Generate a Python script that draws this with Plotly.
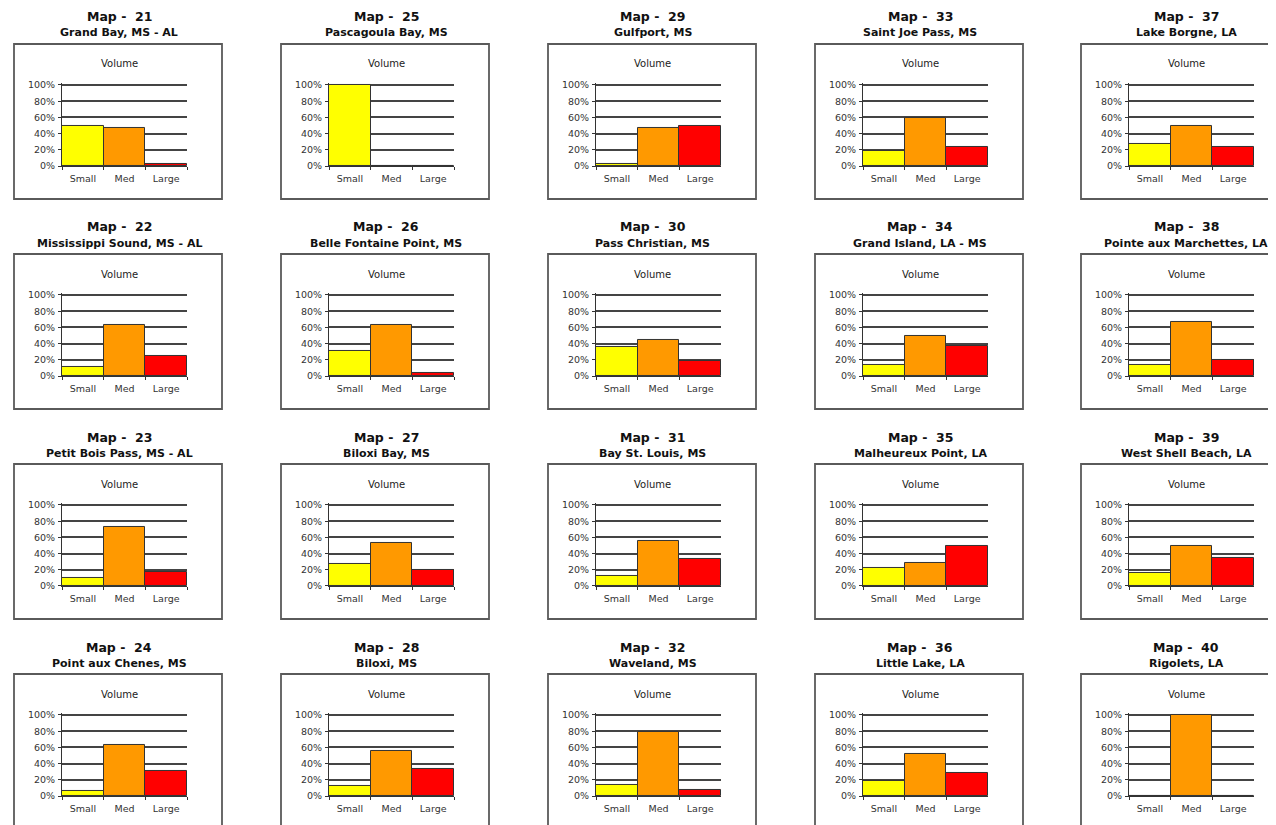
import plotly.graph_objects as go

# page is drawn with an 8px body margin; keep the figure inside the window
PAGE_OFF = 8
W, H = 1276 - PAGE_OFF, 825 - PAGE_OFF

categories = ["Small", "Med", "Large"]
bar_colors = ["#FFFF00", "#FF9900", "#FF0000"]

# grid order: rows top->bottom, columns left->right
map_ids = [
    [21, 25, 29, 33, 37],
    [22, 26, 30, 34, 38],
    [23, 27, 31, 35, 39],
    [24, 28, 32, 36, 40],
]
place_names = [
    ["Grand Bay, MS - AL", "Pascagoula Bay, MS", "Gulfport, MS", "Saint Joe Pass, MS", "Lake Borgne, LA"],
    ["Mississippi Sound, MS - AL", "Belle Fontaine Point, MS", "Pass Christian, MS", "Grand Island, LA - MS", "Pointe aux Marchettes, LA"],
    ["Petit Bois Pass, MS - AL", "Biloxi Bay, MS", "Bay St. Louis, MS", "Malheureux Point, LA", "West Shell Beach, LA"],
    ["Point aux Chenes, MS", "Biloxi, MS", "Waveland, MS", "Little Lake, LA", "Rigolets, LA"],
]
# Volume shares (Small, Med, Large)
volume = [
    [[0.50, 0.47, 0.03], [1.00, 0.00, 0.00], [0.02, 0.47, 0.49], [0.18, 0.59, 0.23], [0.27, 0.50, 0.23]],
    [[0.11, 0.63, 0.25], [0.31, 0.63, 0.04], [0.36, 0.45, 0.19], [0.14, 0.49, 0.37], [0.13, 0.67, 0.20]],
    [[0.10, 0.73, 0.17], [0.27, 0.53, 0.20], [0.12, 0.55, 0.33], [0.22, 0.28, 0.50], [0.16, 0.50, 0.34]],
    [[0.06, 0.63, 0.31], [0.12, 0.55, 0.33], [0.13, 0.79, 0.08], [0.19, 0.52, 0.29], [0.00, 1.00, 0.00]],
]
y_ticks = [0, 0.2, 0.4, 0.6, 0.8, 1.0]
y_ticklabels = ["0%", "20%", "40%", "60%", "80%", "100%"]
Y_MAX = 1.025

box_left = [14, 281, 548, 815, 1081]
box_top = [44, 254, 464, 674]
box_w, box_h = 208, 155

FONT = "DejaVu Sans, Verdana, sans-serif"

fig = go.Figure()
shapes = []
annotations = []

def px(x):
    return (x - PAGE_OFF) / W

def py(y):
    return 1 - (y - PAGE_OFF) / H

k = 0
for r in range(4):
    for c in range(5):
        k += 1
        L, T = box_left[c], box_top[r]
        xa = "x" if k == 1 else f"x{k}"
        ya = "y" if k == 1 else f"y{k}"
        fig.add_trace(go.Bar(
            x=categories, y=volume[r][c],
            marker=dict(color=bar_colors, line=dict(color="#333333", width=1)),
            width=1.0, xaxis=xa, yaxis=ya, showlegend=False,
            hoverinfo="x+y",
        ))
        xkey = "xaxis" if k == 1 else f"xaxis{k}"
        ykey = "yaxis" if k == 1 else f"yaxis{k}"
        fig.layout[xkey] = dict(
            domain=[px(L + 48), px(L + 173)], anchor=ya,
            range=[-0.5, 2.5], showgrid=False, showline=True,
            linecolor="#333333", linewidth=1, ticks="outside", ticklen=3,
            tickcolor="#333333", tickson="boundaries", ticklabelstandoff=4,
            tickfont=dict(family=FONT, size=9.5, color="#333333"),
            fixedrange=True, automargin=False,
        )
        plot_h = 81 * Y_MAX
        fig.layout[ykey] = dict(
            domain=[py(T + 122), py(T + 122 - plot_h)], anchor=xa,
            range=[0, Y_MAX], tickvals=y_ticks, ticktext=y_ticklabels,
            showgrid=True, gridcolor="#444444", gridwidth=1.5,
            showline=True, linecolor="#333333", linewidth=1,
            ticks="outside", ticklen=3, tickcolor="#333333",
            ticklabelstandoff=1,
            tickfont=dict(family=FONT, size=9.5, color="#333333"),
            zeroline=False, fixedrange=True, automargin=False,
        )
        shapes.append(dict(
            type="rect", xref="paper", yref="paper",
            x0=px(L), x1=px(L + box_w), y0=py(T + box_h), y1=py(T),
            line=dict(color="#5a5a5a", width=1.8), layer="below",
        ))
        cx = px(L + 105)
        annotations.append(dict(
            text=f"<b>Map -  {map_ids[r][c]}</b>", x=cx, y=py(T - 27),
            xref="paper", yref="paper", showarrow=False,
            font=dict(family=FONT, size=12.5, color="#111111"),
            xanchor="center", yanchor="middle",
        ))
        annotations.append(dict(
            text=f"<b>{place_names[r][c]}</b>", x=cx, y=py(T - 11),
            xref="paper", yref="paper", showarrow=False,
            font=dict(family=FONT, size=11, color="#111111"),
            xanchor="center", yanchor="middle",
        ))
        annotations.append(dict(
            text="Volume", x=px(L + 105), y=py(T + 20),
            xref="paper", yref="paper", showarrow=False,
            font=dict(family=FONT, size=10, color="#222222"),
            xanchor="center", yanchor="middle",
        ))

fig.update_layout(
    width=W, height=H, margin=dict(l=0, r=0, t=0, b=0, autoexpand=False),
    paper_bgcolor="white", plot_bgcolor="white",
    bargap=0, shapes=shapes, annotations=annotations,
    showlegend=False,
)

fig.write_html("out.html")
